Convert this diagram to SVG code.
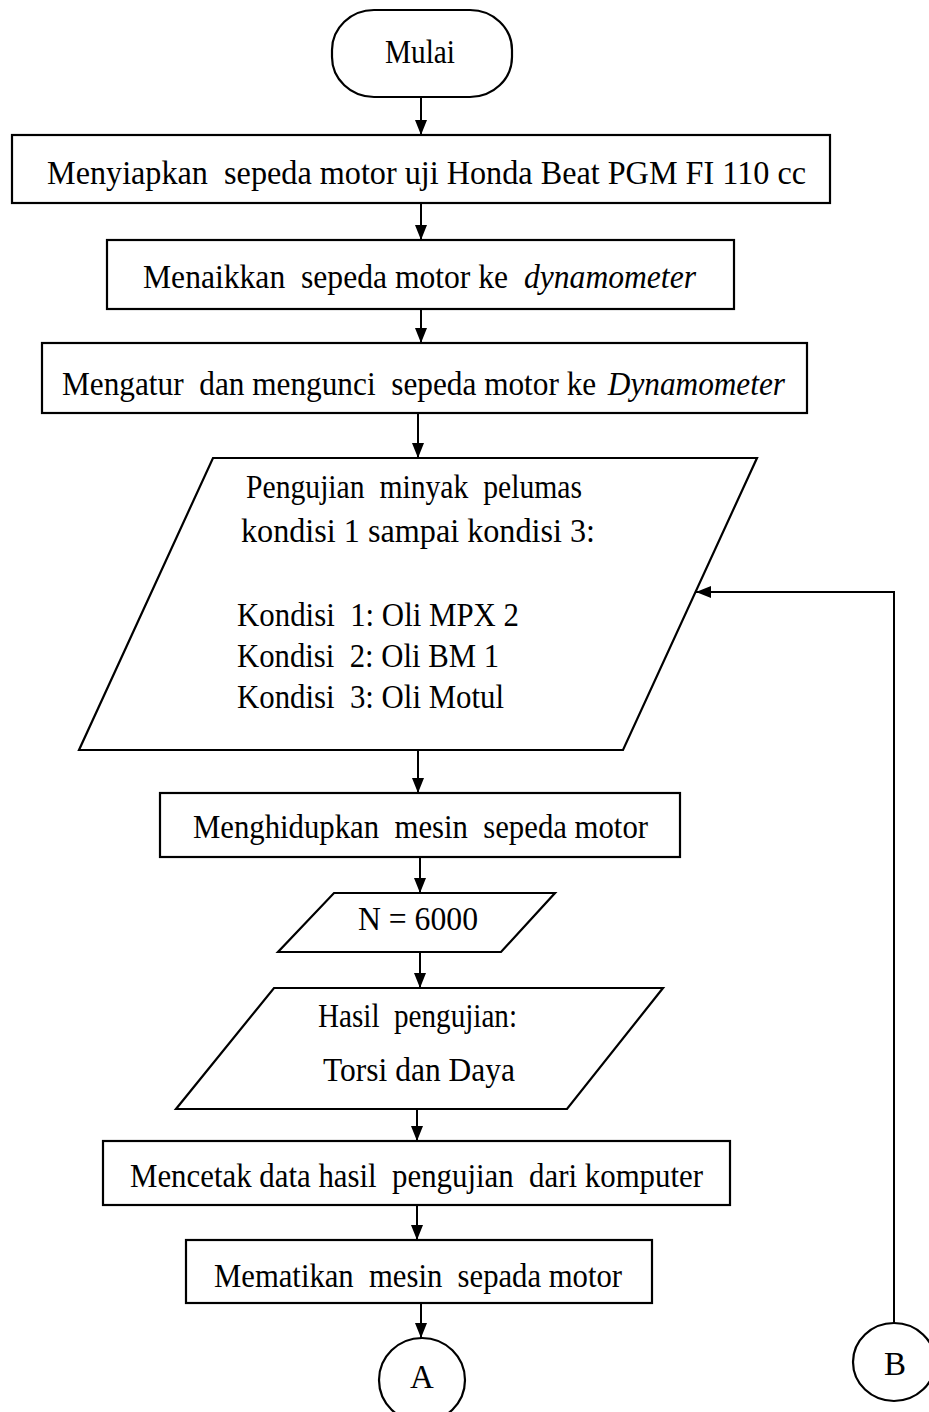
<svg xmlns="http://www.w3.org/2000/svg" width="929" height="1412" viewBox="0 0 929 1412">
  <style>
    .shape { fill: #ffffff; stroke: #000000; stroke-width: 2.2; }
    .lbl { font-family: "Liberation Serif", "Times New Roman", serif; font-size: 33px; fill: #000000; white-space: pre; }
    .mid { text-anchor: middle; }
    .it { font-style: italic; }
    .conn { fill: none; stroke: #000000; stroke-width: 2; }
  </style>
  <defs>
    <marker id="arrow" markerUnits="userSpaceOnUse" viewBox="0 0 15 12" refX="15" refY="6" markerWidth="15" markerHeight="12" orient="auto">
      <path d="M0,0 L15,6 L0,12 z" fill="#000000"/>
    </marker>
  </defs>
  <rect width="929" height="1412" fill="#ffffff"/>

  <!-- connectors -->
  <g id="connectors">
    <line class="conn" x1="421" y1="97" x2="421" y2="135" marker-end="url(#arrow)"/>
    <line class="conn" x1="421" y1="203" x2="421" y2="240" marker-end="url(#arrow)"/>
    <line class="conn" x1="421" y1="309" x2="421" y2="343" marker-end="url(#arrow)"/>
    <line class="conn" x1="418" y1="413" x2="418" y2="458" marker-end="url(#arrow)"/>
    <line class="conn" x1="418" y1="750" x2="418" y2="793" marker-end="url(#arrow)"/>
    <line class="conn" x1="420" y1="857" x2="420" y2="893" marker-end="url(#arrow)"/>
    <line class="conn" x1="420" y1="952" x2="420" y2="988" marker-end="url(#arrow)"/>
    <line class="conn" x1="417" y1="1109" x2="417" y2="1141" marker-end="url(#arrow)"/>
    <line class="conn" x1="417" y1="1205" x2="417" y2="1240" marker-end="url(#arrow)"/>
    <line class="conn" x1="421" y1="1303" x2="421" y2="1338" marker-end="url(#arrow)"/>
    <polyline class="conn" points="894,1323 894,592 696,592" marker-end="url(#arrow)"/>
  </g>

  <g id="mulai">
    <rect class="shape" x="332" y="10" width="180" height="87" rx="42" ry="40"/>
    <text class="lbl" x="385" y="63" textLength="70" lengthAdjust="spacingAndGlyphs">Mulai</text>
  </g>

  <g id="siapkan">
    <rect class="shape" x="12" y="135" width="818" height="68"/>
    <text class="lbl" x="47" y="184" textLength="759" lengthAdjust="spacingAndGlyphs">Menyiapkan  sepeda motor uji Honda Beat PGM FI 110 cc</text>
  </g>

  <g id="naikkan">
    <rect class="shape" x="107" y="240" width="627" height="69"/>
    <text class="lbl" x="143" y="288" textLength="553" lengthAdjust="spacingAndGlyphs">Menaikkan  sepeda motor ke  <tspan class="it">dynamometer</tspan></text>
  </g>

  <g id="kunci">
    <rect class="shape" x="42" y="343" width="765" height="70"/>
    <text class="lbl" x="62" y="395" textLength="723" lengthAdjust="spacingAndGlyphs">Mengatur  dan mengunci  sepeda motor ke <tspan class="it" dx="4">Dynamometer</tspan></text>
  </g>

  <g id="pengujian">
    <polygon class="shape" points="213,458 757,458 623,750 79,750"/>
    <text class="lbl" x="246" y="498" textLength="336" lengthAdjust="spacingAndGlyphs">Pengujian  minyak  pelumas</text>
    <text class="lbl" x="241" y="542" textLength="354" lengthAdjust="spacingAndGlyphs">kondisi 1 sampai kondisi 3:</text>
    <text class="lbl" x="237" y="626" textLength="282" lengthAdjust="spacingAndGlyphs">Kondisi  1: Oli MPX 2</text>
    <text class="lbl" x="237" y="667" textLength="262" lengthAdjust="spacingAndGlyphs">Kondisi  2: Oli BM 1</text>
    <text class="lbl" x="237" y="708" textLength="267" lengthAdjust="spacingAndGlyphs">Kondisi  3: Oli Motul</text>
  </g>

  <g id="hidupkan">
    <rect class="shape" x="160" y="793" width="520" height="64"/>
    <text class="lbl" x="193" y="838" textLength="455" lengthAdjust="spacingAndGlyphs">Menghidupkan  mesin  sepeda motor</text>
  </g>

  <g id="putaran">
    <polygon class="shape" points="334,893 555,893 501,952 278,952"/>
    <text class="lbl" x="358" y="930" textLength="120" lengthAdjust="spacingAndGlyphs">N = 6000</text>
  </g>

  <g id="hasil">
    <polygon class="shape" points="274,988 663,988 567,1109 176,1109"/>
    <text class="lbl" x="318" y="1027" textLength="199" lengthAdjust="spacingAndGlyphs">Hasil  pengujian:</text>
    <text class="lbl" x="323" y="1081" textLength="192" lengthAdjust="spacingAndGlyphs">Torsi dan Daya</text>
  </g>

  <g id="cetak">
    <rect class="shape" x="103" y="1141" width="627" height="64"/>
    <text class="lbl" x="130" y="1187" textLength="573" lengthAdjust="spacingAndGlyphs">Mencetak data hasil  pengujian  dari komputer</text>
  </g>

  <g id="matikan">
    <rect class="shape" x="186" y="1240" width="466" height="63"/>
    <text class="lbl" x="214" y="1287" textLength="408" lengthAdjust="spacingAndGlyphs">Mematikan  mesin  sepada motor</text>
  </g>

  <g id="konektor-a">
    <ellipse class="shape" cx="422" cy="1380" rx="43" ry="42"/>
    <text class="lbl mid" x="422" y="1388">A</text>
  </g>

  <g id="konektor-b">
    <ellipse class="shape" cx="894" cy="1362" rx="41" ry="39"/>
    <text class="lbl mid" x="895" y="1375">B</text>
  </g>
</svg>
